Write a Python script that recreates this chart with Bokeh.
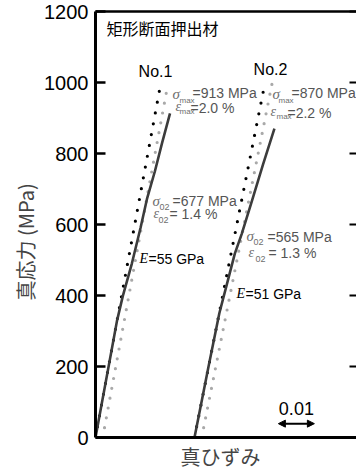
from bokeh.plotting import figure
from bokeh.models import Range1d, LinearAxis, FixedTicker, Title, Arrow, NormalHead
from bokeh.core.properties import value
from bokeh.embed import file_html
from bokeh.resources import INLINE

# ---------------- data (true strain, true stress MPa) ----------------
no1_strain = [0.0, 0.0036, 0.0060, 0.0076, 0.0101, 0.0125, 0.0143, 0.0165, 0.0185, 0.0207]
no1_stress = [0, 198, 330, 399, 490, 590, 672, 750, 830, 913]

no2_offset = 0.0275  # horizontal shift of specimen No.2 in the chart
no2_strain = [0.0, 0.0039, 0.0069, 0.0092, 0.0112, 0.0131, 0.0160, 0.0190, 0.0222]
no2_stress = [0, 200, 350, 440, 518, 573, 668, 768, 870]

# elastic lines (E) and 0.2 % offset lines
no1_e_strain = [0.0, 0.0179]
no1_e_stress = [0, 985]
no1_off_strain = [0.002, 0.0201]
no1_off_stress = [0, 995]
no2_e_strain = [0.0, 0.0195]
no2_e_stress = [0, 995]
no2_off_strain = [0.002, 0.0217]
no2_off_stress = [0, 1005]

y_ticks = [0, 200, 400, 600, 800, 1000, 1200]
scale_bar_start = 0.0508
scale_bar_len = 0.01
scale_bar_level = 39

X_MAX = 0.0725
Y_MAX = 1200

SANS = "Liberation Sans"
SERIF = "Liberation Serif"
CJK = "Noto Sans CJK JP"

p = figure(width=356, height=474, output_backend="svg", toolbar_location=None,
           title=None, x_range=Range1d(0, X_MAX), y_range=Range1d(0, Y_MAX),
           min_border_left=95, min_border_right=0, min_border_top=11,
           min_border_bottom=37)
p.grid.visible = False
p.outline_line_color = None
p.background_fill_color = "white"
p.border_fill_color = "white"

# left axis
yax = p.yaxis[0]
yax.ticker = FixedTicker(ticks=y_ticks)
yax.major_tick_in = 10
yax.major_tick_out = 0
yax.minor_tick_line_color = None
yax.axis_line_width = 3
yax.major_tick_line_width = 2.5
yax.major_label_text_font_size = "20px"
yax.major_label_text_font = SANS
yax.major_label_text_color = "black"
yax.major_label_standoff = 7

# bottom axis
xax = p.xaxis[0]
xax.ticker = FixedTicker(ticks=[])
xax.major_tick_in = 0
xax.major_tick_out = 0
xax.minor_tick_line_color = None
xax.axis_line_width = 3
xax.major_label_standoff = 0

# top frame line
top = LinearAxis(ticker=FixedTicker(ticks=[]), axis_line_width=2.5,
                 major_tick_in=0, major_tick_out=0, minor_tick_line_color=None,
                 major_label_standoff=0)
p.add_layout(top, "above")

# right ticks (inward, no line, no labels)
right = LinearAxis(ticker=FixedTicker(ticks=y_ticks), axis_line_color=None,
                   major_tick_in=7, major_tick_out=0, major_tick_line_width=2,
                   minor_tick_line_color=None, major_label_standoff=0,
                   major_label_overrides={t: "" for t in y_ticks})
p.add_layout(right, "right")

p.add_layout(Title(text="真応力 (MPa)", align="left", offset=137,
                   text_font_size="20px", text_font=CJK, text_font_style="normal",
                   standoff=4), "left")
p.add_layout(Title(text="真ひずみ", align="left", offset=85,
                   text_font_size="20px", text_font=CJK, text_font_style="normal",
                   standoff=4), "below")

# ---------------- curves ----------------
GRAY_DOT = "#a9a9a9"
p.line(no1_off_strain, no1_off_stress, line_color=GRAY_DOT, line_width=3.2,
       line_dash="0 10", line_cap="round")
p.line([s + no2_offset for s in no2_off_strain], no2_off_stress, line_color=GRAY_DOT,
       line_width=3.2, line_dash="0 10", line_cap="round")
p.line(no1_e_strain, no1_e_stress, line_color="black", line_width=3.2,
       line_dash="0 11", line_cap="round")
p.line([s + no2_offset for s in no2_e_strain], no2_e_stress, line_color="black",
       line_width=3.2, line_dash="0 11", line_cap="round")
p.line(no1_strain, no1_stress, line_color="#3c3c3c", line_width=2.6)
p.line([s + no2_offset for s in no2_strain], no2_stress, line_color="#3c3c3c",
       line_width=2.6)

# ---------------- annotations ----------------
def dx(px):
    return (px - 95) / 3600.0

def dy(py):
    return (437 - py) * Y_MAX / 426.0

SYM = "#6e6e6e"
VAL = "#555555"

# (text, left px, center px, size, font, style, color, align)
notes = [
    ("矩形断面押出材", 106, 27, 16, CJK, "normal", "black", "left"),
    ("No.1", 155, 71, 16, SANS, "normal", "black", "center"),
    ("No.2", 270, 69, 16, SANS, "normal", "black", "center"),
    ("σ", 172, 93, 15, SERIF, "italic", SYM, "left"),
    ("max", 179, 100, 8, SANS, "normal", SYM, "left"),
    ("=913 MPa", 192, 92, 14, SANS, "normal", VAL, "left"),
    ("ε", 175, 106, 14, SERIF, "italic", SYM, "left"),
    ("max", 179, 111, 8, SANS, "normal", SYM, "left"),
    ("=2.0 %", 190, 107, 14, SANS, "normal", VAL, "left"),
    ("σ", 272, 93, 15, SERIF, "italic", SYM, "left"),
    ("max", 278, 100, 8, SANS, "normal", SYM, "left"),
    ("=870 MPa", 291, 92, 14, SANS, "normal", VAL, "left"),
    ("ε", 270, 111, 14, SERIF, "italic", SYM, "left"),
    ("max", 276, 116, 8, SANS, "normal", SYM, "left"),
    ("=2.2 %", 287, 112, 14, SANS, "normal", VAL, "left"),
    ("σ", 152, 200, 15, SERIF, "italic", SYM, "left"),
    ("02", 159, 206, 9, SANS, "normal", SYM, "left"),
    ("=677 MPa", 172, 200, 14, SANS, "normal", VAL, "left"),
    ("ε", 153, 213, 14, SERIF, "italic", SYM, "left"),
    ("02", 158, 219, 9, SANS, "normal", SYM, "left"),
    ("= 1.4 %", 169, 213, 14, SANS, "normal", VAL, "left"),
    ("E", 139, 258, 14, SERIF, "italic", "black", "left"),
    ("=55 GPa", 148, 258, 14, SANS, "normal", "black", "left"),
    ("σ", 246, 235, 15, SERIF, "italic", SYM, "left"),
    ("02", 253, 241, 9, SANS, "normal", SYM, "left"),
    ("=565 MPa", 267, 236, 14, SANS, "normal", VAL, "left"),
    ("ε", 248, 252, 14, SERIF, "italic", SYM, "left"),
    ("02", 255, 258, 9, SANS, "normal", SYM, "left"),
    ("= 1.3 %", 268, 252, 14, SANS, "normal", VAL, "left"),
    ("E", 236, 293, 14, SERIF, "italic", "black", "left"),
    ("=51 GPa", 245, 293, 14, SANS, "normal", "black", "left"),
]
for t, x, y, s, f, st, c, al in notes:
    p.text(x=[dx(x)], y=[dy(y)], text=[t], text_font_size=f"{s}px",
           text_font=value(f), text_font_style=st, text_color=c,
           text_align=al, text_baseline="middle")

# scale bar
p.add_layout(Arrow(x_start=scale_bar_start, x_end=scale_bar_start + scale_bar_len,
                   y_start=scale_bar_level, y_end=scale_bar_level,
                   line_width=2, line_color="black",
                   start=NormalHead(size=7, line_color="black", fill_color="black"),
                   end=NormalHead(size=7, line_color="black", fill_color="black")))
p.text(x=[scale_bar_start + scale_bar_len / 2], y=[dy(408)], text=["0.01"],
       text_font_size="18px", text_font=value(SANS), text_color="black",
       text_align="center", text_baseline="middle")

open("out.html", "w").write(file_html(p, INLINE))
